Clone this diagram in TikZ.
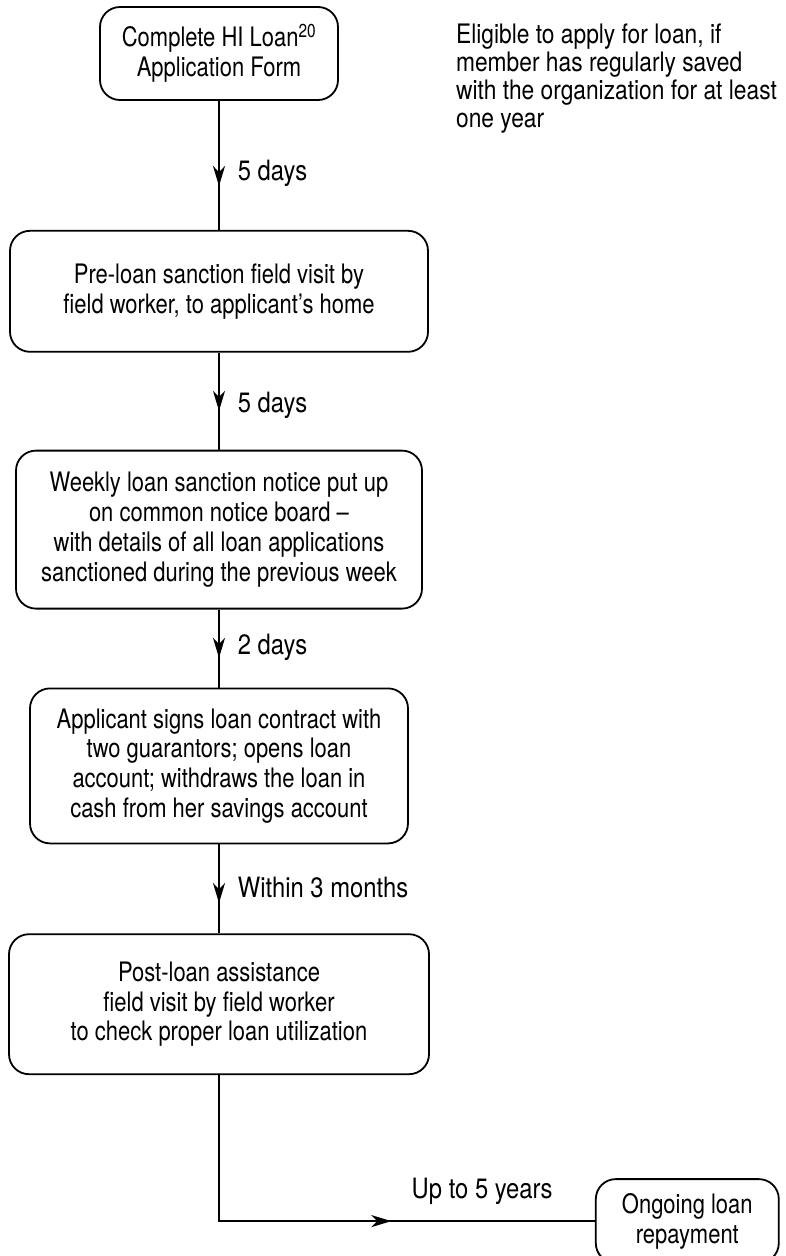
\documentclass[tikz,border=0pt]{standalone}
\usepackage{fontspec}
\setmainfont{TeX Gyre Heros}[FakeStretch=0.85]
\newfontfamily\stepfont{TeX Gyre Heros}[FakeStretch=0.82, Ligatures=TeX]
\usetikzlibrary{positioning,arrows.meta,decorations.markings}

\begin{document}
\begin{tikzpicture}[
    x=1pt, y=1pt,
    node distance=90pt,
    stepbox/.style={rectangle, draw, line width=1.8pt, rounded corners=20pt, align=center, inner sep=0pt, font=\stepfont\fontsize{26.8pt}{29.8pt}\selectfont},
    gap/.style={font=\fontsize{28pt}{29pt}\selectfont, inner sep=0pt},
    note/.style={font=\fontsize{26.8pt}{28pt}\selectfont, inner sep=0pt, align=left},
    line/.style={line width=1.8pt},
    flow/.style={line, postaction={decorate}, decoration={markings, mark=at position #1 with {\arrow{Stealth[length=20pt, width=12pt, inset=6pt]}}}},
    flow/.default=0.62
]
    \useasboundingbox (0,0) rectangle (786,-1256);

    % Steps
    \node[stepbox, minimum width=238pt, minimum height=93pt] (apply) at (219,-53.5) {Complete HI Loan\textsuperscript{20}\\Application Form};
    \node[stepbox, below=129pt of apply, minimum width=418pt, minimum height=121pt] (previsit) {Pre-loan sanction field visit by\\field worker, to applicant’s home};
    \node[stepbox, below=97pt of previsit, minimum width=406pt, minimum height=158pt] (notice) {Weekly loan sanction notice put up\\on common notice board –\\with details of all loan applications\\sanctioned during the previous week};
    \node[stepbox, below=78pt of notice, minimum width=378pt, minimum height=155pt] (contract) {Applicant signs loan contract with\\two guarantors; opens loan\\account; withdraws the loan in\\cash from her savings account};
    \node[stepbox, below=89pt of contract, minimum width=420pt, minimum height=140pt] (postvisit) {Post-loan assistance\\field visit by field worker\\to check proper loan utilization};
    \node[stepbox, anchor=west, minimum width=183pt, minimum height=84pt] (repay) at ([xshift=165pt, yshift=-146pt]postvisit.south east) {Ongoing loan\\repayment};

    % Eligibility note
    \node[note, anchor=north west] (rule) at ([xshift=117pt, yshift=-18pt]apply.north east) {Eligible to apply for loan, if\\member has regularly saved\\with the organization for at least\\one year};

    % Connectors
    \draw[flow=0.66] (apply) -- node[gap, pos=0.56, right=18pt] {5 days} (previsit);
    \draw[flow=0.6] (previsit) -- node[gap, pos=0.54, right=18pt] {5 days} (notice);
    \draw[flow=0.62] (notice) -- node[gap, pos=0.49, right=18pt] {2 days} (contract);
    \draw[flow=0.66] (contract) -- node[gap, pos=0.49, right=18pt] {Within 3 months} (postvisit);
    \draw[flow=0.61] (postvisit) |- node[gap, pos=0.85, above=16pt] {Up to 5 years} (repay);
\end{tikzpicture}
\end{document}
